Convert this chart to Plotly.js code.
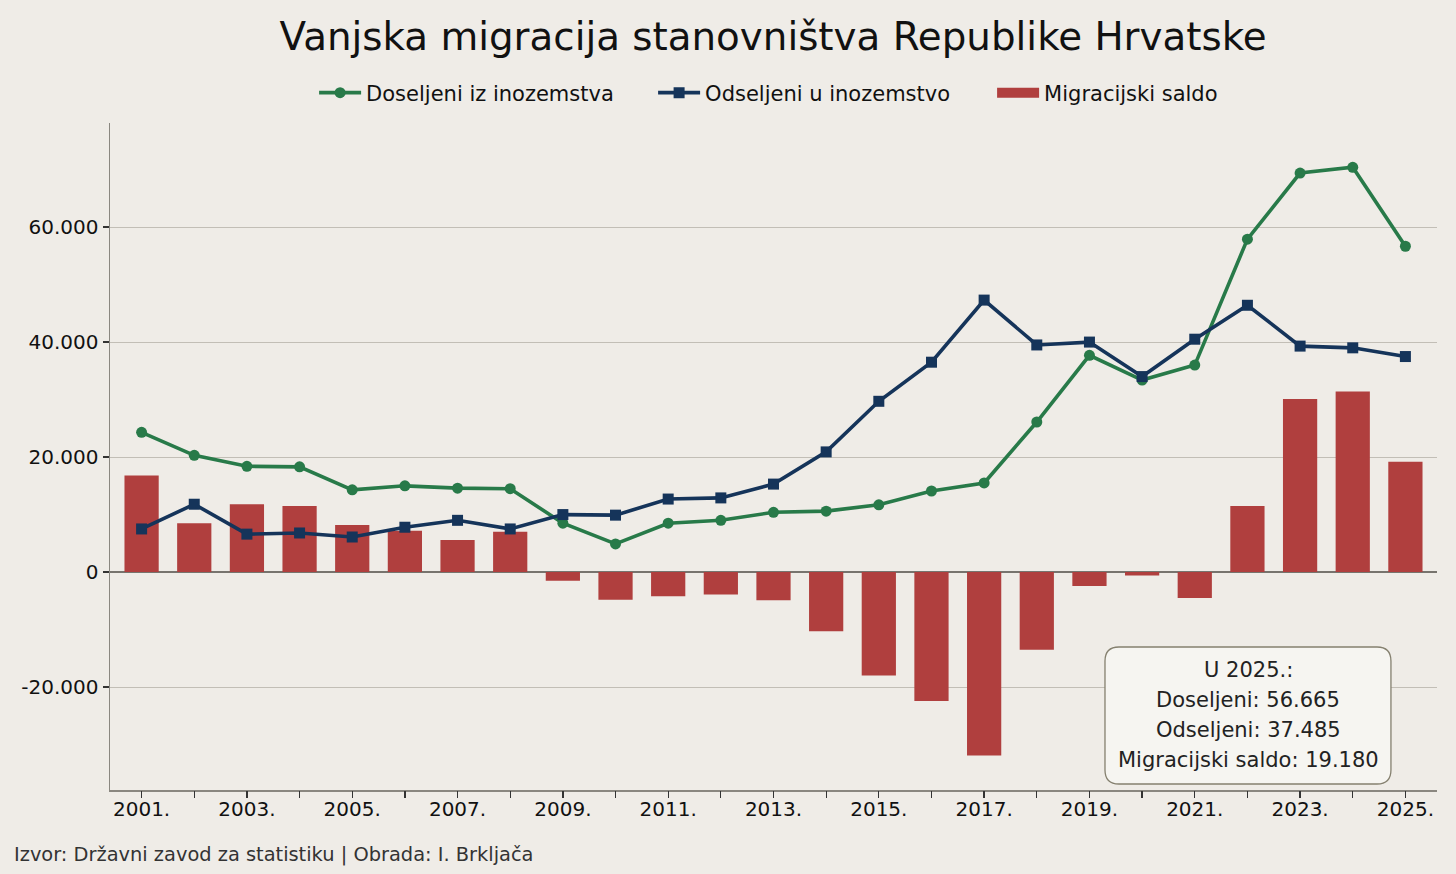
<!DOCTYPE html>
<html>
<head>
<meta charset="utf-8">
<script src="https://cdn.plot.ly/plotly-3.0.1.min.js"></script>
<style>
  html, body { margin: 0; padding: 0; background: #efece7; }
  #grafik { width: 1456px; height: 874px; }
</style>
</head>
<body>
<div id="grafik"></div>
<script>
// podaci ocitani s grafa
var godine = [2001, 2002, 2003, 2004, 2005, 2006, 2007, 2008, 2009, 2010, 2011, 2012, 2013,
              2014, 2015, 2016, 2017, 2018, 2019, 2020, 2021, 2022, 2023, 2024, 2025];
var doseljeni = [24300, 20300, 18400, 18300, 14300, 15000, 14600, 14500, 8500, 4900, 8500, 9000, 10400,
                 10600, 11700, 14100, 15500, 26100, 37700, 33400, 36000, 57900, 69400, 70400, 56665];
var odseljeni = [7500, 11800, 6600, 6800, 6100, 7800, 9000, 7500, 10000, 9900, 12700, 12900, 15300,
                 20900, 29700, 36500, 47300, 39500, 40000, 34000, 40500, 46400, 39300, 39000, 37485];
var saldo = [16800, 8500, 11800, 11500, 8200, 7200, 5600, 7000, -1500, -4800, -4200, -3900, -4900,
             -10300, -18000, -22400, -31900, -13500, -2400, -600, -4500, 11500, 30100, 31400, 19180];

var yTickVals = [-20000, 0, 20000, 40000, 60000];
var yTickText = ['-20.000', '0', '20.000', '40.000', '60.000'];
var xLabelGodine = godine.filter(function (g) { return g % 2 === 1; });
var xTickText = xLabelGodine.map(function (g) { return g + '.'; });

var okvirTekst = ['U 2025.:', 'Doseljeni: 56.665', 'Odseljeni: 37.485', 'Migracijski saldo: 19.180'];

var font = 'DejaVu Sans, sans-serif';
var crvena = '#b03f3e', zelena = '#287a49', plava = '#15345a';

var trace1 = {
  x: godine, y: saldo, type: 'bar', name: 'Migracijski saldo', showlegend: false,
  marker: { color: crvena }, width: 0.65
};
// samo za legendu: siroki pravokutnik
var trace1leg = {
  x: [null], y: [null], type: 'scatter', mode: 'lines', name: 'Migracijski saldo',
  line: { color: crvena, width: 14 }
};
var trace2 = {
  x: godine, y: doseljeni, type: 'scatter', mode: 'lines+markers', name: 'Doseljeni iz inozemstva',
  line: { color: zelena, width: 3.6 }, marker: { symbol: 'circle', size: 11, color: zelena }
};
var trace3 = {
  x: godine, y: odseljeni, type: 'scatter', mode: 'lines+markers', name: 'Odseljeni u inozemstvo',
  line: { color: plava, width: 3.6 }, marker: { symbol: 'square', size: 11, color: plava }
};
// prazan trag da se nacrta os s crticama
var traceOs = {
  x: [null], y: [null], type: 'scatter', mode: 'lines', xaxis: 'x2', showlegend: false, hoverinfo: 'skip'
};

var anotacije = okvirTekst.map(function (t, i) {
  return {
    xref: 'paper', yref: 'paper', x: 0.8576, y: 0.1795 - i * 0.045,
    text: t, showarrow: false, xanchor: 'center', yanchor: 'middle',
    font: { family: font, size: 21, color: '#222' }
  };
});
anotacije.push({
  xref: 'paper', yref: 'paper', x: -0.074, y: -0.097,
  text: 'Izvor: Državni zavod za statistiku | Obrada: I. Brkljača', showarrow: false,
  xanchor: 'left', yanchor: 'middle', font: { family: font, size: 19.4, color: '#333' }
});

// okvir sa zaobljenim kutovima
var x0 = 0.7498, x1 = 0.9653, y0 = 0.009, y1 = 0.2144, rx = 0.0105, ry = 0.021;
var okvir = 'M ' + (x0 + rx) + ',' + y1 + ' L ' + (x1 - rx) + ',' + y1 +
  ' Q ' + x1 + ',' + y1 + ' ' + x1 + ',' + (y1 - ry) +
  ' L ' + x1 + ',' + (y0 + ry) + ' Q ' + x1 + ',' + y0 + ' ' + (x1 - rx) + ',' + y0 +
  ' L ' + (x0 + rx) + ',' + y0 + ' Q ' + x0 + ',' + y0 + ' ' + x0 + ',' + (y0 + ry) +
  ' L ' + x0 + ',' + (y1 - ry) + ' Q ' + x0 + ',' + y1 + ' ' + (x0 + rx) + ',' + y1 + ' Z';

var xRange = [2000.4, 2025.6];

var layout = {
  width: 1456, height: 874,
  paper_bgcolor: '#efece7', plot_bgcolor: '#efece7',
  margin: { l: 110, r: 19, t: 123, b: 84 },
  font: { family: font, color: '#111' },
  title: { text: 'Vanjska migracija stanovništva Republike Hrvatske', x: 0.531, xanchor: 'center',
           y: 0.958, yanchor: 'middle', font: { family: font, size: 38.8, color: '#111' } },
  showlegend: true,
  legend: { orientation: 'h', x: 0.537, xanchor: 'center', y: 1.045, yanchor: 'middle',
            font: { family: font, size: 21, color: '#111' }, traceorder: 'normal',
            itemwidth: 42, entrywidth: 282, entrywidthmode: 'pixels', bgcolor: 'rgba(0,0,0,0)' },
  xaxis: {
    range: xRange, tickmode: 'array', tickvals: xLabelGodine, ticktext: xTickText,
    ticks: '', showgrid: false, zeroline: false, showline: true, linecolor: '#8a8780', linewidth: 1.5,
    tickfont: { family: font, size: 20, color: '#111' }
  },
  // samo crtice za svaku godinu
  xaxis2: {
    overlaying: 'x', range: xRange, side: 'bottom', anchor: 'y', tickmode: 'array', tickvals: godine,
    ticks: 'outside', ticklen: 7, tickwidth: 1.3, tickcolor: '#333', showticklabels: false,
    showgrid: false, zeroline: false, showline: false
  },
  yaxis: {
    range: [-37900, 78100], tickmode: 'array', tickvals: yTickVals, ticktext: yTickText,
    ticks: 'outside', ticklen: 6, tickwidth: 1.3, tickcolor: '#333',
    showgrid: true, gridcolor: '#c2beb6', gridwidth: 1,
    zeroline: true, zerolinecolor: '#77746e', zerolinewidth: 1.5,
    showline: true, linecolor: '#8a8780', linewidth: 1.5,
    tickfont: { family: font, size: 20, color: '#111' }
  },
  shapes: [{ type: 'path', xref: 'paper', yref: 'paper', path: okvir,
             fillcolor: '#f6f5f1', line: { color: '#85806f', width: 1.3 } }],
  annotations: anotacije
};

Plotly.newPlot('grafik', [trace2, trace3, trace1, trace1leg, traceOs], layout,
  { displayModeBar: false, staticPlot: true });
</script>
</body>
</html>
